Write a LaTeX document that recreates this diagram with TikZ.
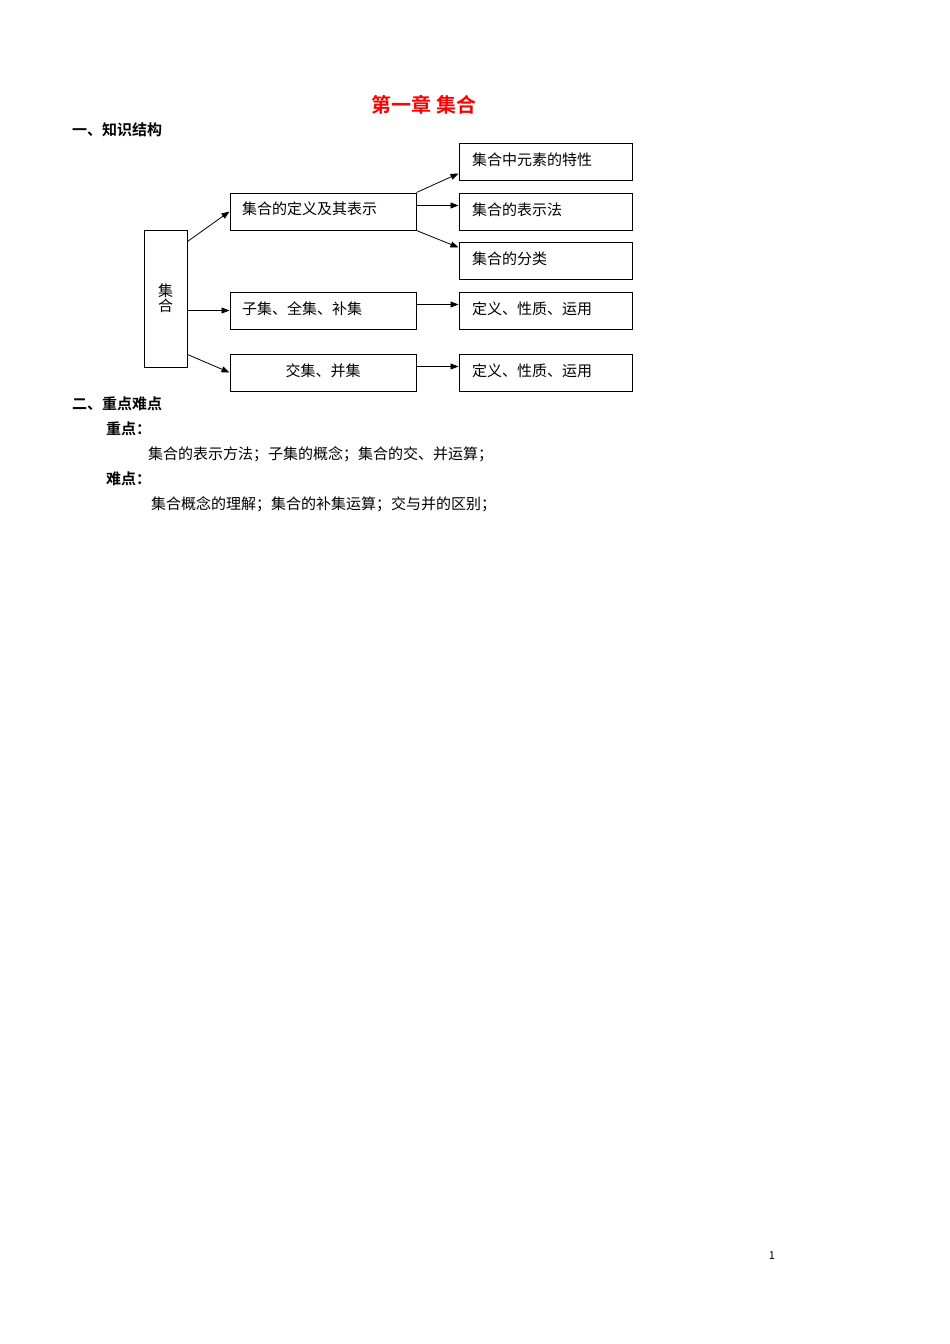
\documentclass[tikz,border=0pt]{standalone}
\usepackage{fontspec}
\setmainfont{Noto Sans CJK SC}
\newfontfamily\cjkb{Noto Sans CJK SC Bold}
\usetikzlibrary{arrows.meta}
\begin{document}
\begin{tikzpicture}[x=1pt,y=-1pt,
  bx/.style={draw,line width=1pt,minimum height=37pt,inner sep=0pt,font=\fontsize{15}{17}\selectfont},
  ar/.style={-{Triangle[length=8pt,width=6pt]},line width=0.8pt},
  tx/.style={anchor=west,inner sep=0pt,font=\fontsize{15}{17}\selectfont},
  hd/.style={anchor=west,inner sep=0pt,font=\cjkb\fontsize{15}{17}\selectfont}]
\useasboundingbox (0,0) rectangle (950,1344);
\node[inner sep=0pt,text=red,font=\cjkb\fontsize{20}{22}\selectfont] (title) at (424,105) {第一章\ 集合};
\node[hd] (h1) at (72,130) {一、知识结构};
\node[bx,minimum width=43pt,minimum height=137pt,align=center,font=\fontsize{15}{17}\selectfont] (S) at (165.5,298.5) {集\\[-2pt]合};
\node[bx,minimum width=186pt] (A) at (323,211.5) {};
\node[tx] (At) at (242,209) {集合的定义及其表示};
\node[bx,minimum width=186pt] (B) at (323,310.5) {};
\node[tx] (Bt) at (242,309) {子集、全集、补集};
\node[bx,minimum width=186pt] (C) at (323,372.5) {};
\node[inner sep=0pt,font=\fontsize{15}{17}\selectfont] (Ct) at (323,371) {交集、并集};
\foreach \n/\y/\t in {R1/161.5/集合中元素的特性,R2/211.5/集合的表示法,R3/260.5/集合的分类,R4/310.5/定义、性质、运用,R5/372.5/定义、性质、运用}{
  \node[bx,minimum width=173pt] (\n) at (545.5,\y) {};
  \node[tx] (\n t) at (472,\y-2) {\t};
}
\draw[ar] ([yshift=-12pt]S.north east) -- (A.west);
\draw[ar] (S.east |- B.west) -- (B.west);
\draw[ar] ([yshift=13pt]S.south east) -- (C.west);
\draw[ar] (A.north east) -- ([yshift=7pt]R1.south west);
\draw[ar] ([yshift=6pt]A.east) -- ([yshift=6pt]R2.west);
\draw[ar] (A.south east) -- ([yshift=-6pt]R3.north west);
\draw[ar] ([yshift=6pt]B.east) -- ([yshift=6pt]R4.west);
\draw[ar] ([yshift=6pt]C.east) -- ([yshift=6pt]R5.west);
\node[hd] (h2) at (72,404) {二、重点难点};
\node[hd] (h3) at (106,429) {重点：};
\node[tx] (t1) at (148,454) {集合的表示方法；子集的概念；集合的交、并运算；};
\node[hd] (h4) at (106,479) {难点：};
\node[tx] (t2) at (151,504) {集合概念的理解；集合的补集运算；交与并的区别；};
\node[inner sep=0pt,font=\fontsize{11}{13}\selectfont] (pg) at (772,1256) {1};
\end{tikzpicture}
\end{document}
